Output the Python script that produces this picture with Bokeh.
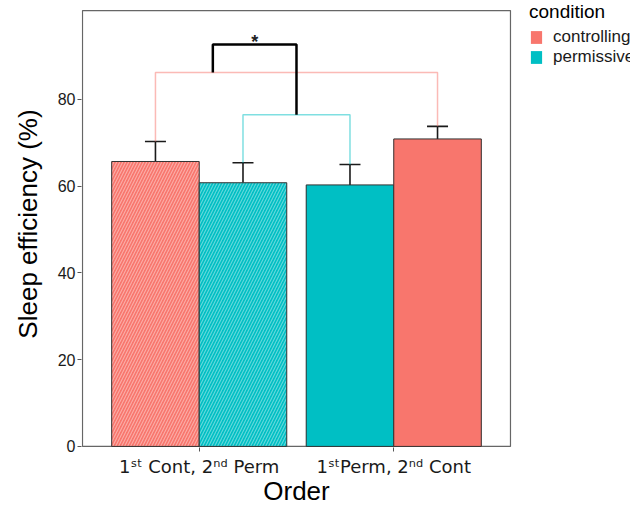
from bokeh.plotting import figure
from bokeh.models import (Range1d, FixedTicker, Legend, LegendItem, Whisker,
                          ColumnDataSource, TeeHead, LinearAxis)
from bokeh.embed import file_html
from bokeh.resources import INLINE
from bokeh.core.properties import value

# ---------------- data ----------------
order_labels = ["1\u02e2\u1d57 Cont, 2\u207f\u1d48 Perm", "1\u02e2\u1d57Perm, 2\u207f\u1d48 Cont"]
order_pos = [1, 2]
legend_conditions = ["controlling", "permissive"]
palette = {"controlling": "#F8766D", "permissive": "#00BFC4"}

bar_order = [0, 0, 1, 1]
bar_session = ["first", "second", "first", "second"]
bar_condition = ["controlling", "permissive", "permissive", "controlling"]
sleep_eff = [65.7, 60.8, 60.3, 70.9]
err_upper = [70.3, 65.4, 65.0, 73.8]
hatched = [True, True, False, False]

# comparison brackets (bar index pairs and heights)
pair_cond_bars = [0, 3]
pair_cond_y = 86.2
pair_perm_bars = [1, 2]
pair_perm_y = 76.5
sig_left_x = 1.07
sig_top_y = 92.7
sig_label = "*"

y_ticks = [0, 20, 40, 60, 80]
panel_x = [0.4, 2.6]
panel_y = [0, 100.5]

# ---------------- derived ----------------
bar_width = 0.45
offsets = {"first": -bar_width / 2, "second": bar_width / 2}
xs = [order_pos[o] + offsets[s] for o, s in zip(bar_order, bar_session)]
colors = [palette[c] for c in bar_condition]

def subset(flag):
    idx = [i for i, h in enumerate(hatched) if h == flag]
    return idx, ColumnDataSource(dict(
        x=[xs[i] for i in idx], top=[sleep_eff[i] for i in idx],
        color=[colors[i] for i in idx]))

FONT = "Liberation Sans"
PX = 194.5   # pixels per x unit (panel 428 px wide)
PY = 4.3375  # pixels per y unit

# frame runs from the panel's left edge to the canvas' right/top edges so the legend fits inside it
p = figure(width=630, height=510,
           x_range=Range1d(panel_x[0] - 1 / PX, panel_x[1] + 120 / PX),
           y_range=Range1d(panel_y[0] - 0.25, panel_y[1] + 0.25 + 9 / PY),
           output_backend="svg", toolbar_location=None,
           min_border_left=81, min_border_right=0, min_border_top=0, min_border_bottom=63)
p.grid.visible = False
p.outline_line_color = None
p.background_fill_color = "white"
p.border_fill_color = "white"

# panel border
p.quad(left=[panel_x[0]], right=[panel_x[1]], bottom=[panel_y[0]], top=[panel_y[1]],
       fill_color=None, line_color="#666666", line_width=1.2)

# bars
idx_h, src_h = subset(True)
idx_s, src_s = subset(False)
p.vbar(x="x", top="top", bottom=0, width=bar_width, fill_color="color",
       line_color="#333333", line_width=1,
       hatch_pattern="right_diagonal_line", hatch_color="white", hatch_alpha=0.4,
       hatch_scale=6, hatch_weight=1.1, source=src_h)
legend_bars = p.vbar(x="x", top="top", bottom=0, width=bar_width, fill_color="color",
                     line_color=None, source=src_s)
p.vbar(x="x", top="top", bottom=0, width=bar_width, fill_color="color",
       line_color="#333333", line_width=1, source=src_s)

# error bars (upper only)
err_src = ColumnDataSource(dict(x=xs, lower=sleep_eff, upper=err_upper))
p.add_layout(Whisker(source=err_src, base="x", lower="lower", upper="upper",
                     dimension="height", line_color="#1a1a1a", line_width=1.6,
                     upper_head=TeeHead(size=21, line_color="#1a1a1a", line_width=1.6),
                     lower_head=None))

# bracket lines
a, b = pair_cond_bars
p.line(x=[xs[a], xs[a], xs[b], xs[b]], y=[err_upper[a], pair_cond_y, pair_cond_y, err_upper[b]],
       line_color=palette["controlling"], line_alpha=0.5, line_width=1.5)
c, d = pair_perm_bars
p.line(x=[xs[c], xs[c], xs[d], xs[d]], y=[err_upper[c], pair_perm_y, pair_perm_y, err_upper[d]],
       line_color=palette["permissive"], line_alpha=0.5, line_width=1.5)
mid_x = (order_pos[0] + order_pos[1]) / 2
p.line(x=[sig_left_x, sig_left_x, mid_x, mid_x], y=[pair_cond_y, sig_top_y, sig_top_y, pair_perm_y],
       line_color="black", line_width=2.5)
p.text(x=[(sig_left_x + mid_x) / 2], y=[sig_top_y], text=[sig_label],
       text_align="center", text_baseline="alphabetic", text_font=value(FONT),
       text_font_size="18px", text_font_style="bold", text_color="#222222", y_offset=-2)

# axes
p.xaxis.ticker = FixedTicker(ticks=order_pos)
p.xaxis.major_label_overrides = {pos: lab for pos, lab in zip(order_pos, order_labels)}
p.yaxis.ticker = FixedTicker(ticks=y_ticks)
for ax in (p.xaxis, p.yaxis):
    ax.axis_line_color = None
    ax.minor_tick_line_color = None
    ax.major_tick_in = 0
    ax.major_tick_out = 4
    ax.major_tick_line_color = "#555555"
    ax.major_label_text_font = FONT
    ax.major_label_text_color = "#1a1a1a"
    ax.axis_label_text_font = FONT
    ax.axis_label_text_font_style = "normal"
    ax.axis_label_text_color = "black"
    ax.axis_label_text_font_size = "26px"
p.xaxis.major_label_text_font_size = "18px"
p.xaxis.major_label_text_font = "DejaVu Sans"
p.xaxis.major_label_standoff = 4
p.yaxis.major_label_text_font_size = "16px"
p.yaxis.major_label_standoff = 2
p.yaxis.axis_label = "Sleep efficiency (%)"
p.yaxis.axis_label_standoff = 12

# x-axis title, centred on the panel (second axis below)
title_axis = LinearAxis(ticker=FixedTicker(ticks=[mid_x]),
                        major_label_overrides={mid_x: "Order"},
                        axis_line_color=None, major_tick_line_color=None,
                        minor_tick_line_color=None, major_tick_in=0, major_tick_out=0,
                        major_label_standoff=-4, major_label_text_font=FONT,
                        major_label_text_font_size="26px", major_label_text_color="black")
p.add_layout(title_axis, "below")

# legend (location = bottom-left corner relative to the frame's bottom-left)
leg_index = {bar_condition[i]: k for k, i in enumerate(idx_s)}
legend = Legend(items=[LegendItem(label=cnd, renderers=[legend_bars], index=leg_index[cnd])
                       for cnd in legend_conditions],
                location=(448, 380), title="condition",
                title_text_font=FONT, title_text_font_size="19px", title_text_font_style="normal",
                title_text_color="black", title_standoff=4,
                label_text_font=FONT, label_text_font_size="17px", label_text_color="#1a1a1a",
                glyph_width=14, glyph_height=16, label_height=16, label_standoff=10,
                spacing=0, padding=0, margin=0,
                border_line_color=None, background_fill_alpha=0)
p.add_layout(legend)

open("out.html", "w").write(file_html(p, INLINE))
